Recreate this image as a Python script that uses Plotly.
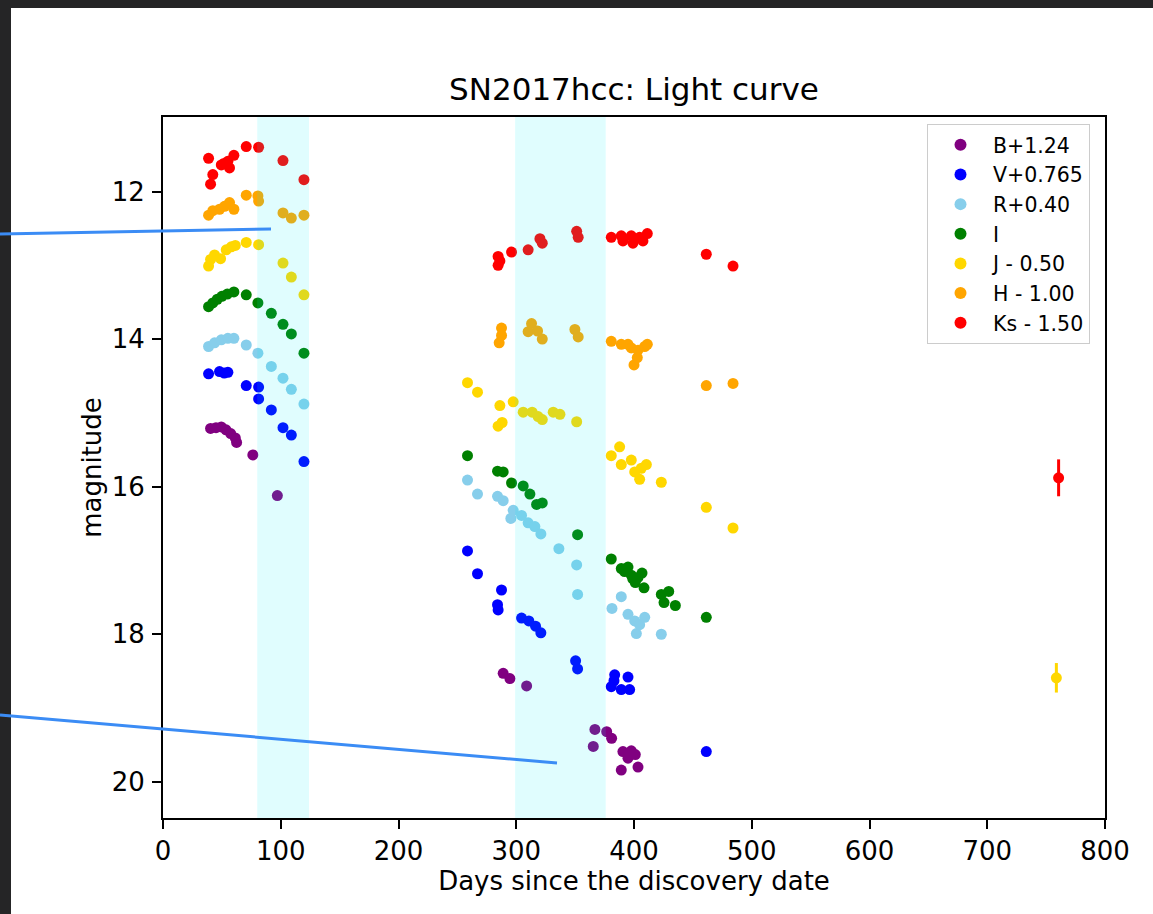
import plotly.graph_objects as go

# ---------------- data ----------------
B_days = [40.4, 45.0, 49.5, 53.5, 57.5, 61.4, 62.5, 76.3, 97.1, 288.9, 294.6, 308.8,
          365.4, 366.8, 376.8, 381.0, 389.2, 390.6, 394.9, 397.7, 401.1, 403.4]
B_mag = [15.21, 15.20, 15.19, 15.23, 15.28, 15.34, 15.40, 15.57, 16.12, 18.53, 18.60, 18.70,
         19.52, 19.29, 19.32, 19.41, 19.84, 19.59, 19.68, 19.58, 19.63, 19.80]

V_days = [38.7, 48.0, 52.0, 55.1, 70.7, 81.2, 81.2, 92.0, 101.9, 109.0, 119.7, 258.6, 267.1,
          287.5, 284.1, 284.6, 304.5, 310.7, 316.4, 320.9, 350.4, 352.1, 380.7, 383.0, 383.6,
          389.2, 394.9, 396.3, 461.4]
V_mag = [14.47, 14.44, 14.46, 14.45, 14.63, 14.65, 14.81, 14.96, 15.20, 15.30, 15.66, 16.87, 17.18,
         17.40, 17.60, 17.67, 17.78, 17.82, 17.89, 17.98, 18.36, 18.47, 18.71, 18.63, 18.55,
         18.75, 18.58, 18.75, 19.59]

R_days = [38.7, 43.8, 49.5, 55.1, 60.2, 70.7, 80.6, 92.0, 101.9, 109.0, 119.7, 258.6, 267.1,
          284.1, 288.9, 295.4, 297.4, 304.5, 310.1, 315.8, 320.9, 336.2, 351.3, 352.1, 381.3,
          389.2, 394.9, 400.6, 402.0, 404.8, 409.1, 423.2]
R_mag = [14.10, 14.05, 14.01, 13.99, 13.99, 14.08, 14.19, 14.37, 14.53, 14.68, 14.88, 15.91, 16.10,
         16.13, 16.19, 16.43, 16.32, 16.39, 16.49, 16.54, 16.64, 16.84, 17.06, 17.46, 17.65,
         17.49, 17.73, 17.82, 17.99, 17.87, 17.77, 18.00]

I_days = [38.7, 42.3, 46.1, 50.0, 54.6, 60.2, 70.7, 80.6, 92.0, 101.9, 109.0, 119.7, 258.6,
          284.1, 288.9, 296.0, 305.9, 311.6, 317.3, 322.1, 352.1, 380.7, 389.2, 392.0, 394.9,
          397.7, 399.0, 401.1, 403.4, 406.8, 408.5, 423.2, 425.5, 429.5, 435.1, 461.4]
I_mag = [13.56, 13.51, 13.46, 13.42, 13.39, 13.36, 13.40, 13.51, 13.65, 13.80, 13.93, 14.19, 15.58,
         15.79, 15.80, 15.95, 15.99, 16.10, 16.24, 16.22, 16.65, 16.98, 17.11, 17.15, 17.09,
         17.20, 17.25, 17.30, 17.23, 17.17, 17.37, 17.46, 17.57, 17.42, 17.61, 17.77]

J_days = [38.7, 40.4, 43.8, 48.9, 53.7, 58.0, 61.4, 70.7, 81.2, 101.9, 109.0, 119.7, 258.6,
          267.1, 286.1, 284.6, 288.0, 297.4, 305.9, 313.5, 318.6, 322.1, 331.4, 337.1, 351.3,
          380.7, 387.8, 389.2, 397.7, 400.6, 404.8, 406.2, 410.5, 423.2, 461.4, 484.1, 758.7]
J_mag = [13.01, 12.92, 12.86, 12.91, 12.79, 12.75, 12.73, 12.69, 12.72, 12.97, 13.16, 13.40, 14.59,
         14.72, 14.90, 15.18, 15.13, 14.85, 14.99, 14.99, 15.05, 15.09, 14.99, 15.02, 15.12,
         15.58, 15.46, 15.70, 15.64, 15.80, 15.90, 15.75, 15.70, 15.94, 16.28, 16.56, 18.59]
J_err = [0.0] * 36 + [0.20]

H_days = [38.7, 42.3, 48.0, 52.3, 56.5, 60.2, 70.7, 80.6, 81.2, 101.9, 109.0, 119.7, 285.5,
          287.5, 287.5, 310.1, 313.0, 318.1, 322.1, 349.8, 352.6, 380.7, 389.2, 394.9, 397.7,
          400.0, 402.8, 403.4, 409.1, 411.3, 461.4, 484.1]
H_mag = [12.32, 12.26, 12.24, 12.20, 12.15, 12.24, 12.05, 12.06, 12.13, 12.29, 12.36, 12.32, 14.05,
         13.85, 13.95, 13.90, 13.79, 13.89, 14.00, 13.87, 13.97, 14.03, 14.07, 14.07, 14.12,
         14.35, 14.25, 14.15, 14.10, 14.07, 14.63, 14.60]
H_err = [0.0] * 32

Ks_days = [38.7, 40.4, 42.3, 49.5, 51.7, 55.1, 56.5, 60.2, 70.7, 81.2, 101.9, 119.7, 284.6,
           284.6, 286.1, 296.0, 310.1, 320.1, 322.1, 351.3, 352.6, 380.7, 389.2, 390.6, 397.7,
           399.1, 404.8, 407.6, 411.3, 461.4, 484.1, 760.6]
Ks_mag = [11.55, 11.90, 11.77, 11.64, 11.62, 11.59, 11.68, 11.51, 11.39, 11.40, 11.58, 11.84, 12.88,
          13.00, 12.94, 12.82, 12.79, 12.64, 12.70, 12.54, 12.62, 12.62, 12.60, 12.67, 12.60,
          12.70, 12.62, 12.67, 12.57, 12.85, 13.01, 15.88]
Ks_err = [0.0] * 31 + [0.25]

band_ranges = [(80, 124), (299, 376)]

names = ["B+1.24", "V+0.765", "R+0.40", "I", "J - 0.50", "H - 1.00", "Ks - 1.50"]
colors = ["purple", "blue", "skyblue", "green", "gold", "orange", "red"]

# ---------------- figure ----------------
W, H = 1153, 914
ML, MR, MT, MB = 163, 48, 117, 96
PW, PH = W - ML - MR, H - MT - MB
FONT = "DejaVu Sans"


def px_x(px):
    return (px - ML) / PW


def px_y(py):
    return (H - MB - py) / PH


series = [
    (B_days, B_mag, None),
    (V_days, V_mag, None),
    (R_days, R_mag, None),
    (I_days, I_mag, None),
    (J_days, J_mag, J_err),
    (H_days, H_mag, H_err),
    (Ks_days, Ks_mag, Ks_err),
]

fig = go.Figure()
for i, ((d, m, e), name, col) in enumerate(zip(series, names, colors)):
    kw = {}
    if e is not None:
        kw["error_y"] = dict(type="data", array=e, visible=True, color=col,
                             thickness=3, width=0)
    fig.add_trace(go.Scatter(
        x=d, y=m, mode="markers", name=name, legendgroup=name,
        marker=dict(color=col, size=11, line=dict(width=0)),
        **kw))

shapes = []
for x0, x1 in band_ranges:
    shapes.append(dict(type="rect", xref="x", yref="paper", x0=x0, x1=x1, y0=0, y1=1,
                       fillcolor="rgba(0,235,250,0.12)", line=dict(width=0), layer="above"))
# dark screenshot frame
frame = "#252526"
shapes.append(dict(type="rect", xref="paper", yref="paper", x0=px_x(0), x1=px_x(11),
                   y0=px_y(H), y1=px_y(0), fillcolor=frame, line=dict(width=0), layer="above"))
shapes.append(dict(type="rect", xref="paper", yref="paper", x0=px_x(0), x1=px_x(W),
                   y0=px_y(8), y1=px_y(0), fillcolor=frame, line=dict(width=0), layer="above"))
# annotation pointer lines
pointer = "#3b8cf5"
shapes.append(dict(type="line", xref="paper", yref="paper", x0=px_x(0), y0=px_y(234),
                   x1=px_x(271), y1=px_y(229), line=dict(color=pointer, width=3), layer="above"))
shapes.append(dict(type="line", xref="paper", yref="paper", x0=px_x(0), y0=px_y(715),
                   x1=px_x(557), y1=px_y(763), line=dict(color=pointer, width=3), layer="above"))

axis_common = dict(showline=True, linecolor="black", linewidth=2, mirror=True,
                   ticks="outside", ticklen=9, tickwidth=2, tickcolor="black",
                   showgrid=False, zeroline=False,
                   tickfont=dict(family=FONT, size=26, color="black"))

fig.update_layout(
    width=W, height=H,
    margin=dict(l=ML, r=MR, t=MT, b=MB, pad=0),
    paper_bgcolor="white", plot_bgcolor="white",
    font=dict(family=FONT, color="black"),
    title=dict(text="SN2017hcc: Light curve", x=0.5, xref="paper", xanchor="center",
               y=1 - 89 / H, yref="container", yanchor="middle",
               font=dict(family=FONT, size=31, color="black")),
    xaxis=dict(range=[0, 800], tickvals=[0, 100, 200, 300, 400, 500, 600, 700, 800],
               title=dict(text="Days since the discovery date",
                          font=dict(family=FONT, size=26, color="black"), standoff=6),
               ticklabelstandoff=0, **axis_common),
    yaxis=dict(range=[20.49, 10.99], tickvals=[12, 14, 16, 18, 20],
               title=dict(text="magnitude", font=dict(family=FONT, size=26, color="black"),
                          standoff=3),
               ticklabelstandoff=2, **axis_common),
    legend=dict(x=px_x(927), y=px_y(124), xanchor="left", yanchor="top",
                bgcolor="rgba(255,255,255,0.85)", bordercolor="#cccccc", borderwidth=1,
                font=dict(family=FONT, size=20.5, color="black"),
                tracegroupgap=0, itemsizing="constant", itemwidth=55),
    shapes=shapes,
    showlegend=True,
)

fig.write_html("out.html",
               config={"displayModeBar": False},
               post_script="document.body.style.margin='0px';"
                           "document.body.style.overflow='hidden';")
